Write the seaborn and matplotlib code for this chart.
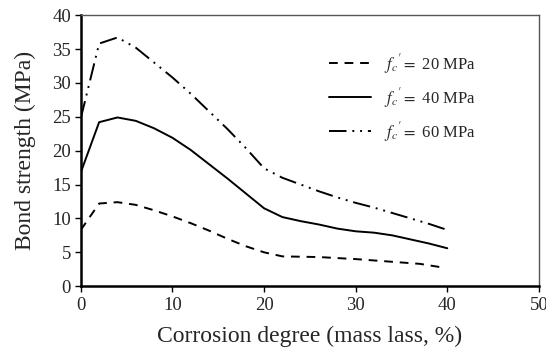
import matplotlib
matplotlib.use("Agg")
import matplotlib.pyplot as plt
import seaborn as sns
import pandas as pd

x20 = [0, 2, 4, 6, 8, 10, 12, 14, 16, 18, 20, 22, 26, 30, 34, 37, 39.3]
y20 = [8.3, 12.2, 12.4, 12.0, 11.2, 10.3, 9.3, 8.2, 7.0, 5.9, 5.0, 4.4, 4.3, 4.0, 3.6, 3.3, 2.8]
x40 = [0, 2, 4, 6, 8, 10, 12, 14, 16, 18, 20, 22, 24, 26, 28, 30, 32, 34, 36, 38, 40]
y40 = [16.8, 24.2, 24.9, 24.4, 23.3, 21.9, 20.1, 18.0, 15.9, 13.7, 11.5, 10.2, 9.6, 9.1, 8.5, 8.1, 7.9, 7.5, 6.9, 6.3, 5.6]
x60 = [0, 2, 4, 6, 8, 10, 12, 14, 16, 18, 20, 22, 24, 26, 28, 30, 32, 34, 36, 38, 40]
y60 = [24.8, 35.8, 36.7, 35.2, 33.0, 30.8, 28.4, 25.8, 23.2, 20.4, 17.4, 16.0, 15.0, 14.0, 13.1, 12.3, 11.6, 10.8, 10.0, 9.2, 8.3]
labels = [r"$f_c{}'=$ 20 MPa", r"$f_c{}'=$ 40 MPa", r"$f_c{}'=$ 60 MPa"]
xticks = [0, 10, 20, 30, 40, 50]
yticks = [0, 5, 10, 15, 20, 25, 30, 35, 40]

sns.set_style("white")
plt.rcParams['font.family'] = ['Liberation Serif', 'DejaVu Serif']
plt.rcParams['mathtext.fontset'] = 'stix'

fig, ax = plt.subplots(figsize=(5.46, 3.6), dpi=100)
styles = [(0, (4.5, 3.5)), '-', (0, (9, 3, 1, 3, 1, 3))]
for xs, ys, lab, ls in zip([x20, x40, x60], [y20, y40, y60], labels, styles):
    df = pd.DataFrame({"x": xs, "y": ys})
    sns.lineplot(data=df, x="x", y="y", ax=ax, color="black", linewidth=1.4,
                 linestyle=ls, label=lab)

ax.set_xlim(0, 50)
ax.set_ylim(0, 40)
ax.set_xticks(xticks)
ax.set_yticks(yticks)
ax.set_xlabel("Corrosion degree (mass lass, %)", fontsize=17, labelpad=8)
ax.set_ylabel("Bond strength (MPa)", fontsize=17, labelpad=12)
ax.tick_params(axis='both', labelsize=13.5, direction='out', length=4, width=1, color='black',
               bottom=True, left=True, pad=3)
ax.tick_params(axis='x', pad=4)
for s in ['left', 'bottom']:
    ax.spines[s].set_color('black')
    ax.spines[s].set_linewidth(1.8)
for s in ['top', 'right']:
    ax.spines[s].set_color('#555555')
    ax.spines[s].set_linewidth(1.0)
leg = ax.legend(loc='upper left', bbox_to_anchor=(0.51, 0.92), frameon=False, fontsize=12,
                handlelength=2.5, labelspacing=0.6)
fig.subplots_adjust(left=0.148, right=0.987, top=0.958, bottom=0.205)
fig.savefig("out.png", dpi=100)
